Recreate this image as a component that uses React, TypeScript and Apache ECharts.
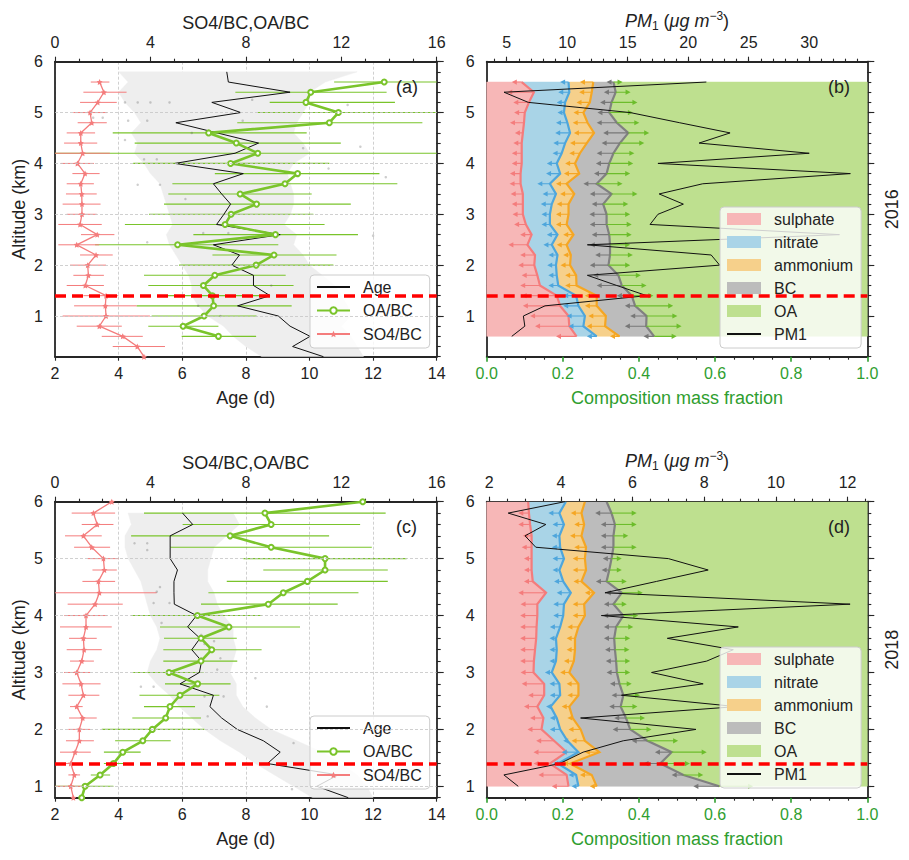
import { useEffect, useRef } from 'react'
import * as echarts from 'echarts'

// ---------- altitude levels (km) ----------
const altA_ratio = [5.6, 5.4, 5.2, 5.0, 4.8, 4.6, 4.4, 4.2, 4.0, 3.8, 3.6, 3.4, 3.2, 3.0, 2.8, 2.6, 2.4, 2.2, 2.0, 1.8, 1.6, 1.4, 1.2, 1.0, 0.8, 0.6]
const altA_so4 = [5.6, 5.4, 5.2, 5.0, 4.8, 4.6, 4.4, 4.2, 4.0, 3.8, 3.6, 3.4, 3.2, 3.0, 2.8, 2.6, 2.4, 2.2, 2.0, 1.8, 1.6, 1.4, 1.2, 1.0, 0.8, 0.6, 0.4, 0.2]
const altA_age = [5.8, 5.6, 5.4, 5.2, 5.0, 4.8, 4.6, 4.4, 4.2, 4.0, 3.8, 3.6, 3.4, 3.2, 3.0, 2.8, 2.6, 2.4, 2.2, 2.0, 1.8, 1.6, 1.4, 1.2, 1.0, 0.8, 0.6, 0.4, 0.2]
const altC_ratio = [6.0, 5.8, 5.6, 5.4, 5.2, 5.0, 4.8, 4.6, 4.4, 4.2, 4.0, 3.8, 3.6, 3.4, 3.2, 3.0, 2.8, 2.6, 2.4, 2.2, 2.0, 1.8, 1.6, 1.4, 1.2, 1.0, 0.8]
const altC_age = [5.8, 5.6, 5.4, 5.2, 5.0, 4.8, 4.6, 4.4, 4.2, 4.0, 3.8, 3.6, 3.4, 3.2, 3.0, 2.8, 2.6, 2.4, 2.2, 2.0, 1.8, 1.6, 1.4, 1.2, 1.0, 0.8]
const altB = [5.6, 5.4, 5.2, 5.0, 4.8, 4.6, 4.4, 4.2, 4.0, 3.8, 3.6, 3.4, 3.2, 3.0, 2.8, 2.6, 2.4, 2.2, 2.0, 1.8, 1.6, 1.4, 1.2, 1.0, 0.8, 0.6]
const altD = [6.0, 5.8, 5.6, 5.4, 5.2, 5.0, 4.8, 4.6, 4.4, 4.2, 4.0, 3.8, 3.6, 3.4, 3.2, 3.0, 2.8, 2.6, 2.4, 2.2, 2.0, 1.8, 1.6, 1.4, 1.2, 1.0]

// ---------- (a) 2016 ----------
const oaA = [13.8, 10.72, 10.52, 11.88, 11.5, 6.44, 7.6, 8.5, 7.36, 10.17, 9.64, 7.76, 8.45, 7.38, 7.13, 9.24, 5.14, 9.18, 8.43, 6.7, 6.22, 6.6, 6.65, 6.25, 5.37, 6.85]
const oaA_lo = [11.7, 7.56, 9.0, 8.5, 7.64, 2.42, 3.34, 0, 3.28, 6.7, 4.92, 4.75, 4.57, 3.94, 2.93, 5.8, 1.68, 6.6, 5.2, 3.73, 3.91, 4.4, 3.42, 4.05, 3.91, 5.31]
const oaA_hi = [16, 13.9, 14.25, 16, 15.4, 10.55, 11.98, 16, 11.5, 13.6, 14.35, 10.76, 12.4, 10.83, 11.3, 12.7, 9.36, 11.8, 11.67, 9.67, 10.0, 9.0, 9.92, 8.45, 6.85, 8.43]
const so4A = [1.87, 2.05, 1.79, 1.47, 1.54, 1.08, 1.08, 1.16, 0.94, 1.26, 1.08, 1.12, 1.13, 1.13, 1.05, 1.77, 0.91, 1.72, 1.37, 1.4, 1.27, 2.14, 2.11, 2.14, 1.86, 2.84, 3.45, 3.73]
const so4A_lo = [1.5, 1.19, 1.05, 0.77, 0.95, 0.49, 0.38, 0, 0.24, 0.73, 0.49, 0.46, 0.32, 0.49, 0.14, 1.09, 0.14, 1.05, 0.63, 0.77, 0.49, 1.19, 0.8, 0.32, 0.91, 1.96, 2.42, 3.73]
const so4A_hi = [2.28, 3.0, 2.59, 2.19, 2.17, 1.68, 1.77, 2.3, 1.63, 1.87, 1.63, 1.75, 1.91, 1.75, 1.96, 2.49, 1.85, 2.42, 2.14, 2.05, 2.05, 2.66, 3.42, 3.98, 2.8, 3.68, 4.61, 3.73]
const ageA = [7.4, 7.45, 9.39, 6.93, 7.84, 5.8, 7.1, 8.4, 7.66, 5.77, 7.92, 6.98, 7.24, 7.52, 7.31, 7.08, 9.08, 6.98, 7.8, 7.56, 8.24, 8.24, 8.76, 7.74, 9.02, 9.39, 10.02, 9.47, 10.44]
const bandA_lo = [4.0, 4.3, 4.0, 4.2, 4.5, 4.7, 4.4, 4.6, 4.5, 4.8, 5.0, 5.3, 5.4, 5.5, 5.6, 5.7, 5.5, 5.6, 5.8, 6.0, 6.2, 6.3, 6.3, 6.5, 6.8, 7.3, 7.6, 8.0, 8.5]
const bandA_hi = [11.5, 10.5, 10.0, 10.0, 9.8, 9.6, 9.5, 9.8, 10.0, 9.5, 9.3, 9.4, 9.5, 9.5, 9.4, 9.2, 9.6, 9.5, 9.8, 10.0, 10.4, 10.8, 11.0, 11.2, 11.3, 11.0, 11.3, 11.5, 11.7]
const ptsA = [[4.2, 5.2], [4.6, 5.2], [5.0, 5.2], [3.2, 4.9], [3.5, 4.9], [4.3, 4.84], [4.9, 4.84], [4.2, 4.46], [4.8, 4.08], [5.2, 4.08], [4.6, 3.58], [5.3, 3.58], [7.9, 4.84], [8.2, 5.25], [11.2, 5.15], [11.6, 4.33], [12.4, 3.73], [4.9, 2.45], [7.45, 2.63], [6.66, 2.63], [12.0, 2.58], [6.5, 1.2], [7.2, 1.0], [5.6, 5.2], [6.3, 4.6], [9.8, 4.3], [10.6, 3.9], [6.1, 3.3], [8.8, 1.6]]

// ---------- (c) 2018 ----------
const oaC = [12.9, 8.8, 9.06, 7.34, 9.06, 11.32, 11.32, 10.58, 9.57, 8.94, 5.97, 7.29, 6.12, 6.57, 6.12, 4.78, 5.98, 5.24, 4.82, 4.64, 4.08, 3.68, 2.84, 2.45, 1.89, 1.26, 1.12]
const oaC_lo = [12.9, 3.73, 5.35, 3.19, 4.82, 7.9, 8.73, 7.2, 6.43, 6.12, 3.19, 4.4, 4.57, 4.54, 4.54, 3.28, 4.61, 3.54, 3.73, 3.24, 1.96, 2.52, 2.05, 2.05, 1.5, 0, 1.12]
const oaC_hi = [12.9, 13.86, 12.79, 11.49, 13.28, 14.74, 13.95, 13.95, 12.72, 11.85, 8.66, 10.27, 7.62, 8.66, 7.64, 6.22, 7.36, 6.89, 5.87, 6.12, 6.26, 4.85, 3.59, 2.86, 2.31, 2.45, 1.12]
const so4C = [2.38, 1.61, 1.77, 1.19, 1.54, 2.03, 2.07, 1.82, 1.86, 1.68, 1.3, 1.3, 1.19, 1.22, 1.12, 0.91, 1.09, 1.19, 0.91, 1.16, 1.02, 1.02, 0.84, 0.66, 0.81, 0.66, 0.77]
const so4C_lo = [2.38, 0.7, 1.12, 0.42, 0.8, 1.37, 1.57, 1.15, 0, 0.53, 0.39, 0.21, 0.59, 0.49, 0.63, 0.38, 0.31, 0.56, 0.63, 0.59, 0.56, 0.46, 0.21, 0.35, 0.56, 0, 0.77]
const so4C_hi = [2.38, 2.52, 2.45, 1.96, 2.31, 2.66, 2.59, 2.52, 4.26, 2.84, 2.19, 2.38, 1.75, 1.96, 1.63, 1.47, 1.91, 1.86, 1.16, 1.75, 1.47, 1.63, 1.5, 0.98, 1.05, 1.26, 0.77]
const ageC = [6.01, 6.33, 5.62, 5.62, 5.62, 5.85, 5.74, 5.74, 5.75, 6.45, 6.17, 6.56, 6.3, 6.61, 6.54, 5.93, 6.98, 6.87, 7.24, 7.73, 8.55, 9.08, 8.68, 10.9, 10.23, 11.22]
const bandC_lo = [4.3, 4.4, 4.2, 4.2, 4.3, 4.5, 4.7, 4.8, 4.9, 5.0, 5.2, 5.3, 5.2, 5.0, 4.9, 5.2, 5.6, 5.9, 6.3, 6.7, 7.2, 7.8, 8.3, 8.9, 9.5, 10.1]
const bandC_hi = [7.6, 7.8, 7.4, 7.0, 6.9, 6.8, 6.8, 7.0, 7.1, 7.3, 7.6, 7.6, 7.7, 7.6, 7.5, 7.7, 7.7, 7.9, 8.3, 8.8, 9.6, 10.4, 11.0, 11.5, 11.8, 12.0]
const ptsC = [[4.5, 5.27], [4.9, 5.27], [4.9, 5.15], [5.3, 4.5], [5.2, 4.42], [5.1, 4.22], [5.6, 4.22], [5.35, 3.87], [6.6, 3.66], [7.0, 3.55], [6.7, 3.5], [6.6, 3.25], [7.2, 3.25], [7.1, 3.05], [8.3, 2.9], [4.7, 2.75], [5.1, 2.75], [6.7, 2.58], [7.3, 2.58], [6.8, 2.23], [9.5, 1.76], [9.45, 0.95], [8.66, 2.4]]

// ---------- (b) 2016 composition: cumulative upper edges ----------
const bSul = [0.092, 0.124, 0.111, 0.1, 0.098, 0.095, 0.092, 0.092, 0.092, 0.089, 0.089, 0.095, 0.095, 0.095, 0.103, 0.118, 0.107, 0.127, 0.125, 0.133, 0.14, 0.184, 0.193, 0.215, 0.217, 0.236]
const bNit = [0.215, 0.217, 0.206, 0.203, 0.212, 0.219, 0.206, 0.197, 0.184, 0.193, 0.166, 0.182, 0.171, 0.166, 0.166, 0.186, 0.171, 0.186, 0.182, 0.184, 0.188, 0.235, 0.241, 0.258, 0.254, 0.289]
const bAmm = [0.28, 0.276, 0.271, 0.254, 0.265, 0.282, 0.263, 0.245, 0.232, 0.243, 0.21, 0.23, 0.215, 0.215, 0.21, 0.228, 0.21, 0.221, 0.219, 0.235, 0.236, 0.289, 0.289, 0.313, 0.311, 0.349]
const bBC = [0.333, 0.339, 0.328, 0.322, 0.342, 0.372, 0.35, 0.333, 0.322, 0.315, 0.289, 0.328, 0.306, 0.315, 0.315, 0.322, 0.324, 0.324, 0.32, 0.346, 0.355, 0.381, 0.39, 0.42, 0.419, 0.44]
// arrow tips (uncertainty)
const bSulArr = [0.066, 0.054, 0.07, 0.072, 0.061, 0.074, 0.07, 0.066, 0.066, 0.061, 0.06, 0.063, 0.066, 0.068, 0.072, 0.088, 0.057, 0.088, 0.083, 0.092, 0.088, 0.092, 0.095, 0.114, 0.127, 0.182]
const bNitArr = [0.193, 0.188, 0.184, 0.186, 0.182, 0.18, 0.175, 0.173, 0.158, 0.156, 0.133, 0.147, 0.142, 0.144, 0.144, 0.158, 0.149, 0.162, 0.159, 0.162, 0.162, 0.201, 0.201, 0.21, 0.215, 0.263]
const bAmmArr = [0.245, 0.243, 0.236, 0.228, 0.226, 0.229, 0.219, 0.217, 0.206, 0.203, 0.182, 0.193, 0.184, 0.182, 0.182, 0.201, 0.184, 0.201, 0.194, 0.206, 0.206, 0.258, 0.258, 0.267, 0.263, 0.324]
const bBCArr = [0.315, 0.308, 0.298, 0.291, 0.289, 0.306, 0.302, 0.289, 0.287, 0.282, 0.254, 0.271, 0.276, 0.27, 0.271, 0.276, 0.271, 0.285, 0.271, 0.28, 0.289, 0.342, 0.363, 0.377, 0.363, 0.412]
const bOAArr = [0.357, 0.378, 0.396, 0.384, 0.401, 0.427, 0.414, 0.388, 0.385, 0.377, 0.357, 0.396, 0.372, 0.377, 0.381, 0.381, 0.377, 0.384, 0.377, 0.405, 0.42, 0.438, 0.49, 0.501, 0.512, 0.499]
const pmB = [21.5, 4.78, 6.79, 15.2, 19.3, 23.46, 20.9, 30.0, 17.5, 33.4, 21.2, 17.6, 19.6, 17.5, 16.85, 32.5, 11.67, 21.9, 22.6, 11.67, 14.1, 16.57, 8.17, 6.38, 6.5, 5.42]

// ---------- (d) 2018 composition ----------
const dSul = [0.109, 0.111, 0.114, 0.118, 0.118, 0.118, 0.118, 0.121, 0.156, 0.133, 0.133, 0.131, 0.13, 0.127, 0.124, 0.123, 0.151, 0.151, 0.133, 0.149, 0.144, 0.177, 0.21, 0.166, 0.21, 0.215]
const dNit = [0.208, 0.191, 0.203, 0.191, 0.193, 0.203, 0.191, 0.201, 0.221, 0.203, 0.201, 0.193, 0.182, 0.184, 0.182, 0.171, 0.191, 0.193, 0.168, 0.184, 0.193, 0.212, 0.241, 0.187, 0.235, 0.241]
const dAmm = [0.258, 0.249, 0.256, 0.249, 0.261, 0.258, 0.261, 0.249, 0.282, 0.256, 0.258, 0.241, 0.232, 0.232, 0.229, 0.217, 0.241, 0.241, 0.217, 0.226, 0.247, 0.258, 0.296, 0.219, 0.276, 0.289]
const dBC = [0.315, 0.328, 0.337, 0.333, 0.333, 0.328, 0.322, 0.315, 0.355, 0.333, 0.359, 0.34, 0.335, 0.337, 0.34, 0.342, 0.349, 0.359, 0.352, 0.366, 0.377, 0.422, 0.486, 0.456, 0.517, 0.611]
const dSulArr = [0.109, 0.083, 0.083, 0.095, 0.092, 0.098, 0.098, 0.098, 0.083, 0.089, 0.088, 0.088, 0.088, 0.088, 0.088, 0.089, 0.092, 0.109, 0.098, 0.114, 0.107, 0.13, 0.123, 0.123, 0.136, 0.171]
const dNitArr = [0.208, 0.162, 0.173, 0.171, 0.171, 0.173, 0.173, 0.177, 0.184, 0.175, 0.175, 0.166, 0.165, 0.165, 0.165, 0.153, 0.165, 0.166, 0.156, 0.166, 0.166, 0.201, 0.197, 0.175, 0.215, 0.223]
const dAmmArr = [0.258, 0.221, 0.23, 0.219, 0.23, 0.226, 0.226, 0.228, 0.258, 0.226, 0.226, 0.212, 0.21, 0.21, 0.203, 0.193, 0.21, 0.212, 0.197, 0.212, 0.215, 0.223, 0.258, 0.201, 0.245, 0.271]
const dBCArr = [0.315, 0.285, 0.3, 0.3, 0.3, 0.305, 0.302, 0.287, 0.313, 0.308, 0.306, 0.308, 0.308, 0.311, 0.313, 0.315, 0.324, 0.328, 0.322, 0.335, 0.331, 0.381, 0.442, 0.412, 0.486, 0.543]
const dOAArr = [0.315, 0.394, 0.394, 0.372, 0.394, 0.355, 0.355, 0.368, 0.41, 0.368, 0.398, 0.385, 0.377, 0.375, 0.377, 0.377, 0.381, 0.403, 0.396, 0.416, 0.433, 0.503, 0.578, 0.534, 0.569, 0.7]
const pmD = [4.11, 2.53, 3.58, 3.0, 3.3, 7.0, 8.11, 6.67, 5.23, 12.07, 5.13, 8.95, 6.97, 8.81, 8.07, 6.53, 7.97, 5.69, 8.9, 4.55, 7.77, 5.74, 4.62, 3.97, 2.41, 2.81]

// ---------- ticks ----------
const altLabels = [1, 2, 3, 4, 5, 6]
const pmLabelsB = [5, 10, 15, 20, 25, 30]
const pmLabelsD = [2, 4, 6, 8, 10, 12]
const BL_HEIGHT = 1.4

const steps = (a: number, b: number, s: number) =>
  Array.from({ length: Math.round((b - a) / s) + 1 }, (_, i) => +(a + i * s).toFixed(4))

const FONT = "'Liberation Sans', Arial, sans-serif"
const TXT = '#222222'
const DARK = '#262626'
const GREEN = '#7ac42b'
const RED = '#f47c7c'
const AXGREEN = '#2f9e2f'
const STAR = 'path://M0,-10 L2.9,-4 9.5,-3.1 4.8,1.5 5.9,8.1 0,5 -5.9,8.1 -4.8,1.5 -9.5,-3.1 -2.9,-4Z'

const spine = { show: true, lineStyle: { color: DARK, width: 1.8 } }
const tickLine = { color: DARK, width: 1.1 }
const lbl = (extra: any = {}) => ({ color: TXT, fontSize: 16, fontFamily: FONT, ...extra })
const nameStyle = { color: TXT, fontSize: 18, fontFamily: FONT }

const pmName = '{i|PM}{s|1}{n| (}{i|μg m}{p|−3}{n|)}'
const pmNameStyle = {
  ...nameStyle,
  rich: {
    i: { fontStyle: 'italic', fontSize: 18, fontFamily: FONT, color: TXT },
    n: { fontSize: 18, fontFamily: FONT, color: TXT },
    s: { fontSize: 12, fontFamily: FONT, color: TXT, padding: [10, 0, 0, 0] },
    p: { fontSize: 12, fontFamily: FONT, color: TXT, padding: [0, 0, 10, 0] }
  }
}

// ---------- axis builders ----------
const ageAxis = (gridIndex: number) => ({
  type: 'value', gridIndex, position: 'bottom', min: 2, max: 14, interval: 2,
  name: 'Age (d)', nameLocation: 'middle', nameGap: 32, nameTextStyle: nameStyle,
  axisLine: spine, axisTick: { show: true, length: 4, lineStyle: tickLine },
  axisLabel: lbl({ margin: 9 }),
  splitLine: { show: true, lineStyle: { type: [3, 2], color: '#c4c4c4', width: 0.8 } }
})

const ratioAxis = (gridIndex: number) => ({
  type: 'value', gridIndex, position: 'top', min: 0, max: 16, interval: 4,
  name: 'SO4/BC,OA/BC', nameLocation: 'middle', nameGap: 30, nameTextStyle: nameStyle,
  axisLine: spine, axisTick: { show: true, length: 5, lineStyle: tickLine },
  minorTick: { show: true, splitNumber: 4, length: 3, lineStyle: tickLine },
  axisLabel: lbl({ margin: 11 }), splitLine: { show: false }
})

const fracAxis = (gridIndex: number) => ({
  type: 'value', gridIndex, position: 'bottom', min: 0, max: 1, interval: 0.2,
  name: 'Composition mass fraction', nameLocation: 'middle', nameGap: 32,
  nameTextStyle: { ...nameStyle, color: AXGREEN },
  axisLine: spine, axisTick: { show: true, length: 5, lineStyle: { color: AXGREEN, width: 1.6 } },
  minorTick: { show: true, splitNumber: 4, length: 3, lineStyle: tickLine },
  axisLabel: lbl({ margin: 9, color: AXGREEN, formatter: (v: number) => v.toFixed(1) }),
  splitLine: { show: false }
})

const pmAxis = (gridIndex: number, min: number, max: number, labels: number[], minor: number[]) => ({
  type: 'value', gridIndex, position: 'top', min, max,
  name: pmName, nameLocation: 'middle', nameGap: 30, nameTextStyle: pmNameStyle,
  axisLine: spine, axisTick: { show: true, length: 3, customValues: minor, lineStyle: tickLine },
  axisLabel: lbl({ margin: 11, customValues: labels }), splitLine: { show: false }
})

const pmMajor = (gridIndex: number, min: number, max: number, labels: number[]) => ({
  type: 'value', gridIndex, position: 'top', min, max,
  axisLine: { show: false }, axisLabel: { show: false }, splitLine: { show: false },
  axisTick: { show: true, length: 5, customValues: labels, lineStyle: tickLine }
})

const altAxis = (gridIndex: number, min: number, withName: boolean) => ({
  type: 'value', gridIndex, position: 'left', min, max: 6,
  name: withName ? 'Altitude (km)' : '', nameLocation: 'middle', nameGap: 27, nameRotate: 90,
  nameTextStyle: nameStyle,
  axisLine: spine, axisTick: { show: false },
  axisLabel: lbl({ margin: 12, customValues: altLabels }), splitLine: { show: false }
})

const altRightMinor = (gridIndex: number, min: number) => ({
  type: 'value', gridIndex, position: 'right', min, max: 6,
  axisLine: spine, axisLabel: { show: false }, splitLine: { show: false },
  axisTick: { show: true, length: 4, customValues: steps(min, 6, 0.2), lineStyle: tickLine }
})

const altRightMajor = (gridIndex: number, min: number, year: string) => ({
  type: 'value', gridIndex, position: 'right', min, max: 6,
  name: year, nameLocation: 'middle', nameGap: 16, nameRotate: 90, nameTextStyle: nameStyle,
  axisLine: { show: false }, axisLabel: { show: false }, splitLine: { show: false },
  axisTick: { show: true, length: 7, customValues: altLabels, lineStyle: tickLine }
})

// ---------- series builders ----------
const bandSeries = (name: string, xi: number, yi: number, alts: number[], left: number[], right: number[], fill: string, stroke?: string) => {
  const rows = alts.map((a, i) => [left[i], a, right[i]])
  return {
    type: 'custom', name, xAxisIndex: xi, yAxisIndex: yi, clip: true, silent: true,
    itemStyle: { color: fill },
    data: rows,
    renderItem: (params: any, api: any) => {
      if (params.dataIndex !== 0) return null
      const l = rows.map(r => api.coord([r[0], r[1]]))
      const r = rows.map(q => api.coord([q[2], q[1]]))
      const children: any[] = [{
        type: 'polygon', shape: { points: l.concat(r.slice().reverse()) },
        style: { fill, stroke: fill, lineWidth: 0.5 }
      }]
      if (stroke) children.push({ type: 'polyline', shape: { points: r }, style: { stroke, lineWidth: 2.2, fill: null } })
      return { type: 'group', children }
    }
  }
}

const errSeries = (name: string, xi: number, yi: number, alts: number[], lo: number[], hi: number[], color: string, width: number) => ({
  type: 'custom', name, xAxisIndex: xi, yAxisIndex: yi, clip: true, silent: true,
  itemStyle: { color },
  data: alts.map((a, i) => [lo[i], a, hi[i]]),
  renderItem: (_p: any, api: any) => {
    const a = api.coord([api.value(0), api.value(1)])
    const b = api.coord([api.value(2), api.value(1)])
    return { type: 'line', shape: { x1: a[0], y1: a[1], x2: b[0], y2: b[1] }, style: { stroke: color, lineWidth: width } }
  }
})

const arrowSeries = (name: string, xi: number, yi: number, alts: number[], from: number[], to: number[], color: string) => ({
  type: 'custom', name, xAxisIndex: xi, yAxisIndex: yi, clip: true, silent: true,
  itemStyle: { color },
  data: alts.map((a, i) => [from[i], a, to[i]]),
  renderItem: (_p: any, api: any) => {
    const a = api.coord([api.value(0), api.value(1)])
    const b = api.coord([api.value(2), api.value(1)])
    const dx = b[0] - a[0]
    if (Math.abs(dx) < 2) return null
    const d = dx > 0 ? 1 : -1
    return {
      type: 'group', children: [
        { type: 'line', shape: { x1: a[0], y1: a[1], x2: b[0] - d * 3, y2: b[1] }, style: { stroke: color, lineWidth: 1.1 } },
        { type: 'polygon', shape: { points: [[b[0], b[1]], [b[0] - d * 5, b[1] - 2.6], [b[0] - d * 5, b[1] + 2.6]] }, style: { fill: color } }
      ]
    }
  }
})

const pairs = (xs: number[], ys: number[]) => xs.map((x, i) => [x, ys[i]])

const redDash = {
  symbol: 'none', silent: true, label: { show: false },
  lineStyle: { color: '#ff0000', type: [11, 6], width: 3.5 },
  data: [{ yAxis: BL_HEIGHT }]
}
const gridLines = {
  symbol: 'none', silent: true, label: { show: false },
  lineStyle: { color: '#c4c4c4', type: [3, 2], width: 0.8 },
  data: [1, 2, 3, 4, 5].map(v => ({ yAxis: v }))
}

const ratioPanel = (xAge: number, xRatio: number, y: number, altAge: number[], age: number[], bLo: number[], bHi: number[], pts: number[][],
  altOA: number[], oa: number[], oaLo: number[], oaHi: number[], altSO4: number[], so4: number[], so4Lo: number[], so4Hi: number[], key: string) => [
  bandSeries('band' + key, xAge, y, altAge, bLo, bHi, '#eeeeee'),
  { type: 'scatter', name: 'pts' + key, xAxisIndex: xAge, yAxisIndex: y, data: pts, symbolSize: 2.5, silent: true, itemStyle: { color: 'rgba(80,80,80,0.35)' } },
  errSeries('errOA' + key, xRatio, y, altOA, oaLo, oaHi, GREEN, 1.1),
  errSeries('errSO4' + key, xRatio, y, altSO4, so4Lo, so4Hi, RED, 1),
  {
    type: 'line', name: 'Age', xAxisIndex: xAge, yAxisIndex: y, data: pairs(age, altAge), symbol: 'none',
    lineStyle: { color: '#111', width: 1 }, itemStyle: { color: '#111' }, markLine: gridLines
  },
  {
    type: 'line', name: 'SO4/BC', xAxisIndex: xRatio, yAxisIndex: y, data: pairs(so4, altSO4), symbol: STAR, symbolSize: 6,
    lineStyle: { color: RED, width: 1.3 }, itemStyle: { color: RED }
  },
  {
    type: 'line', name: 'OA/BC', xAxisIndex: xRatio, yAxisIndex: y, data: pairs(oa, altOA), symbol: 'emptyCircle', symbolSize: 5,
    lineStyle: { color: GREEN, width: 2.6 }, itemStyle: { color: GREEN, borderWidth: 1.2 }, markLine: redDash
  }
]

const FILL = { sul: '#f7b7b7', nit: '#a9d4e7', amm: '#f6d08b', bc: '#bcbcbc', oa: '#bee08f' }
const EDGE = { sul: '#f47c7c', nit: '#4ea6dc', amm: '#f5a623', bc: '#808080', oa: '#6cbd2b' }

const compPanel = (xf: number, xp: number, y: number, alts: number[], sul: number[], nit: number[], amm: number[], bc: number[],
  sulA: number[], nitA: number[], ammA: number[], bcA: number[], oaA2: number[], pm: number[]) => {
  const zero = alts.map(() => 0)
  const one = alts.map(() => 1)
  return [
    bandSeries('OA', xf, y, alts, bc, one, FILL.oa),
    bandSeries('BC', xf, y, alts, amm, bc, FILL.bc, EDGE.bc),
    bandSeries('ammonium', xf, y, alts, nit, amm, FILL.amm, EDGE.amm),
    bandSeries('nitrate', xf, y, alts, sul, nit, FILL.nit, EDGE.nit),
    bandSeries('sulphate', xf, y, alts, zero, sul, FILL.sul, EDGE.sul),
    arrowSeries('arrSul', xf, y, alts, sul, sulA, EDGE.sul),
    arrowSeries('arrNit', xf, y, alts, nit, nitA, EDGE.nit),
    arrowSeries('arrAmm', xf, y, alts, amm, ammA, EDGE.amm),
    arrowSeries('arrBC', xf, y, alts, bc, bcA, '#777777'),
    arrowSeries('arrOA', xf, y, alts, bc, oaA2, EDGE.oa),
    {
      type: 'line', name: 'PM1', xAxisIndex: xp, yAxisIndex: y, data: pairs(pm, alts), symbol: 'none',
      lineStyle: { color: '#111', width: 1 }, itemStyle: { color: '#111' }, markLine: redDash
    }
  ]
}

const legendBase = {
  orient: 'vertical', backgroundColor: 'rgba(255,255,255,0.8)', borderColor: '#cccccc', borderWidth: 1,
  borderRadius: 4, selectedMode: false,
  textStyle: { fontSize: 16, fontFamily: FONT, color: TXT, padding: [0, 0, 0, 8] }
}
const ratioLegendData = [
  { name: 'Age', itemStyle: { opacity: 0 } },
  { name: 'OA/BC' },
  { name: 'SO4/BC' }
]
const compLegendData = [
  { name: 'sulphate', icon: 'rect', itemStyle: { color: FILL.sul } },
  { name: 'nitrate', icon: 'rect', itemStyle: { color: FILL.nit } },
  { name: 'ammonium', icon: 'rect', itemStyle: { color: FILL.amm } },
  { name: 'BC', icon: 'rect', itemStyle: { color: FILL.bc } },
  { name: 'OA', icon: 'rect', itemStyle: { color: FILL.oa } },
  { name: 'PM1', itemStyle: { opacity: 0 } }
]

const panelLabel = (text: string, left: number, top: number) => ({
  type: 'text', left, top, z: 100, style: { text, fontSize: 18, fontFamily: FONT, fill: TXT }
})

export default function App() {
  const chartRef = useRef<HTMLDivElement>(null)

  useEffect(() => {
    if (!chartRef.current) return
    document.body.style.margin = '0'
    const chart = echarts.init(chartRef.current, null, { renderer: 'svg' })

    const option: any = {
      animation: false,
      backgroundColor: '#ffffff',
      textStyle: { fontFamily: FONT },
      grid: [
        { left: 55, top: 61.7, width: 381.7, height: 295, outerBoundsMode: 'none' },
        { left: 486.7, top: 61.7, width: 380.6, height: 295, outerBoundsMode: 'none' },
        { left: 55, top: 501.7, width: 381.7, height: 296, outerBoundsMode: 'none' },
        { left: 486.7, top: 501.7, width: 380.6, height: 296, outerBoundsMode: 'none' }
      ],
      xAxis: [
        ageAxis(0),
        ratioAxis(0),
        fracAxis(1),
        pmAxis(1, 3.35, 34.8, pmLabelsB, steps(4, 34, 1)),
        pmMajor(1, 3.35, 34.8, pmLabelsB),
        ageAxis(2),
        ratioAxis(2),
        fracAxis(3),
        pmAxis(3, 1.93, 12.55, pmLabelsD, steps(2, 12.5, 0.5)),
        pmMajor(3, 1.93, 12.55, pmLabelsD)
      ],
      yAxis: [
        altAxis(0, 0.2, true),
        altRightMinor(0, 0.2),
        altRightMajor(0, 0.2, ''),
        altAxis(1, 0.2, false),
        altRightMinor(1, 0.2),
        altRightMajor(1, 0.2, '2016'),
        altAxis(2, 0.8, true),
        altRightMinor(2, 0.8),
        altRightMajor(2, 0.8, ''),
        altAxis(3, 0.8, false),
        altRightMinor(3, 0.8),
        altRightMajor(3, 0.8, '2018')
      ],
      legend: [
        { ...legendBase, left: 310, top: 275, itemWidth: 33, itemHeight: 8, itemGap: 7.5, padding: [4, 8, 6, 6], data: ratioLegendData },
        { ...legendBase, left: 720, top: 207, itemWidth: 34, itemHeight: 12, itemGap: 7, padding: [4, 8, 6, 6], data: compLegendData },
        { ...legendBase, left: 310, top: 716, itemWidth: 33, itemHeight: 8, itemGap: 7.5, padding: [4, 8, 6, 6], data: ratioLegendData },
        { ...legendBase, left: 720, top: 647, itemWidth: 34, itemHeight: 12, itemGap: 7, padding: [4, 8, 6, 6], data: compLegendData }
      ],
      graphic: [
        panelLabel('(a)', 396, 78),
        panelLabel('(b)', 828, 78),
        panelLabel('(c)', 396, 518),
        panelLabel('(d)', 828, 518)
      ],
      series: [
        ...ratioPanel(0, 1, 0, altA_age, ageA, bandA_lo, bandA_hi, ptsA, altA_ratio, oaA, oaA_lo, oaA_hi, altA_so4, so4A, so4A_lo, so4A_hi, 'A'),
        ...compPanel(2, 3, 3, altB, bSul, bNit, bAmm, bBC, bSulArr, bNitArr, bAmmArr, bBCArr, bOAArr, pmB),
        ...ratioPanel(5, 6, 6, altC_age, ageC, bandC_lo, bandC_hi, ptsC, altC_ratio, oaC, oaC_lo, oaC_hi, altC_ratio, so4C, so4C_lo, so4C_hi, 'C'),
        ...compPanel(7, 8, 9, altD, dSul, dNit, dAmm, dBC, dSulArr, dNitArr, dAmmArr, dBCArr, dOAArr, pmD)
      ]
    }

    chart.setOption(option)
    return () => {
      chart.dispose()
    }
  }, [])

  return <div ref={chartRef} style={{ width: 909, height: 860 }} />
}
